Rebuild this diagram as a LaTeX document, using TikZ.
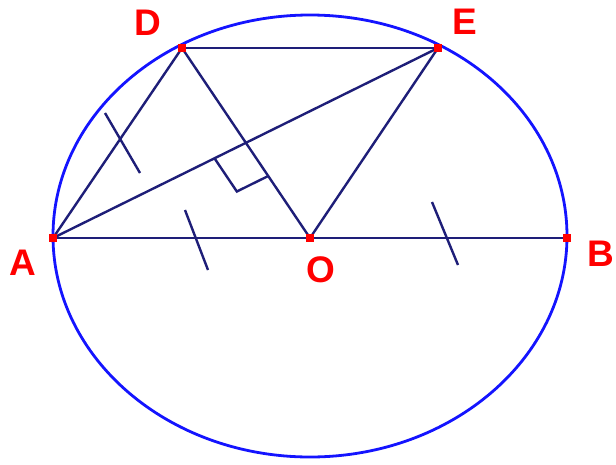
\documentclass[tikz,border=0pt]{standalone}
\usepackage{fontspec}
\setmainfont{Liberation Sans}
\usetikzlibrary{calc}
\definecolor{navy}{RGB}{30,30,120}
\definecolor{cblue}{RGB}{20,20,255}
\definecolor{pred}{RGB}{255,0,0}
\tikzset{
  seg/.style={draw=navy, line width=2.4pt},
  circ/.style={draw=cblue, line width=2.8pt},
  tick/.style={draw=navy, line width=2.4pt},
  lbl/.style={text=pred, font=\fontsize{37}{37}\selectfont\bfseries, inner sep=0pt},
  dot/.style={fill=pred, draw=none, minimum size=8pt, inner sep=0pt, rectangle}
}
\begin{document}
\begin{tikzpicture}[x=1pt,y=-1pt]
\useasboundingbox (0,0) rectangle (616,464);
\coordinate (A) at (53,238);
\coordinate (B) at (567,238);
\coordinate (O) at (310,238);
\coordinate (D) at (182,48);
\coordinate (E) at (438,48);
\coordinate (C) at (310,236);
% circle
\draw[circ] (C) ellipse [x radius=257pt, y radius=221pt];
% segments
\draw[seg] (A) -- (B);
\draw[seg] (D) -- (E);
\draw[seg] (A) -- (D);
\draw[seg] (A) -- (E);
\draw[seg] (D) -- (O);
\draw[seg] (E) -- (O);
% right angle mark
\coordinate (F) at (intersection of A--E and D--O);
\coordinate (R1) at ($(F)!35pt!(A)$);
\coordinate (R2) at ($(F)!40pt!(O)$);
\coordinate (R3) at ($(R1)+(R2)-(F)$);
\draw[tick] (R1) -- (R3) -- (R2);
% tick marks
\coordinate (t1a) at (105,113);
\coordinate (t1b) at (140,173);
\coordinate (t2a) at (185,210);
\coordinate (t2b) at (208,270);
\coordinate (t3a) at (432,202);
\coordinate (t3b) at (458,265);
\draw[tick] (t1a) -- (t1b);
\draw[tick] (t2a) -- (t2b);
\draw[tick] (t3a) -- (t3b);
% points
\node[dot] (pA) at (A) {};
\node[dot] (pB) at (B) {};
\node[dot] (pO) at (O) {};
\node[dot] (pD) at (D) {};
\node[dot] (pE) at (E) {};
% labels
\node[lbl] (lA) at (23,263) {A};
\node[lbl] (lB) at (601,254) {B};
\node[lbl] (lO) at (321,270) {O};
\node[lbl] (lD) at (148,23) {D};
\node[lbl] (lE) at (465,22) {E};
\end{tikzpicture}
\end{document}
